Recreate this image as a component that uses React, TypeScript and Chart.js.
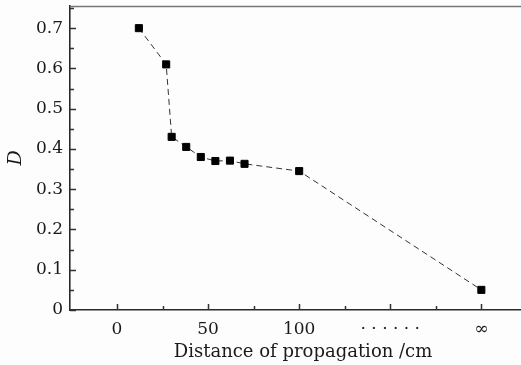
import React, { useEffect, useRef } from 'react';
import { Chart, registerables } from 'chart.js';

Chart.register(...registerables);

const distances = [12, 27, 30, 38, 46, 54, 62, 70, 100, 200];
const dValues = [0.70, 0.61, 0.43, 0.405, 0.38, 0.37, 0.371, 0.363, 0.345, 0.05];
const xTickValues = [0, 50, 100, 150, 200];
const xTickLabels = ['0', '50', '100', '· · · · · ·', '∞'];
const xMinorTicks = [25, 75, 125, 175];
const yTickValues = [0, 0.1, 0.2, 0.3, 0.4, 0.5, 0.6, 0.7];
const yTickLabels = ['0', '0.1', '0.2', '0.3', '0.4', '0.5', '0.6', '0.7'];
const yMinorTicks = [0.05, 0.15, 0.25, 0.35, 0.45, 0.55, 0.65, 0.75];

const FONT = "'DejaVu Serif', serif";
const INK = '#1a1a1a';

const frameTicks = {
  id: 'frameTicks',
  afterDatasetsDraw(chart: any) {
    const { ctx, chartArea, scales } = chart;
    const xs = scales.x;
    const ys = scales.y;
    ctx.save();
    ctx.strokeStyle = '#777';
    ctx.lineWidth = 1.5;
    ctx.beginPath();
    ctx.moveTo(chartArea.left, chartArea.top + 0.5);
    ctx.lineTo(chartArea.right, chartArea.top + 0.5);
    ctx.stroke();
    ctx.strokeStyle = '#333';
    ctx.lineWidth = 1.5;
    ctx.beginPath();
    const yb = chartArea.bottom;
    xTickValues.forEach((v) => {
      const px = Math.round(xs.getPixelForValue(v)) + 0.5;
      ctx.moveTo(px, yb);
      ctx.lineTo(px, yb - 6);
    });
    xMinorTicks.forEach((v) => {
      const px = Math.round(xs.getPixelForValue(v)) + 0.5;
      ctx.moveTo(px, yb);
      ctx.lineTo(px, yb - 4);
    });
    const xl = chartArea.left;
    yTickValues.forEach((v) => {
      const py = Math.round(ys.getPixelForValue(v)) + 0.5;
      ctx.moveTo(xl, py);
      ctx.lineTo(xl + 6, py);
    });
    yMinorTicks.forEach((v) => {
      const py = Math.round(ys.getPixelForValue(v)) + 0.5;
      ctx.moveTo(xl, py);
      ctx.lineTo(xl + 4, py);
    });
    ctx.stroke();
    ctx.restore();
  },
};

export default function App() {
  const ref = useRef<HTMLCanvasElement>(null);
  useEffect(() => {
    document.body.style.margin = '0';
    document.body.style.background = '#fdfdfd';
    const chart = new Chart(ref.current as HTMLCanvasElement, {
      type: 'line',
      data: {
        datasets: [
          {
            data: distances.map((x, i) => ({ x, y: dValues[i] })),
            borderColor: '#333',
            borderWidth: 1,
            borderDash: [6, 4],
            pointStyle: 'rect',
            pointRadius: 5,
            pointBorderWidth: 1,
            pointBackgroundColor: '#000',
            pointBorderColor: '#000',
            tension: 0,
          },
        ],
      },
      options: {
        animation: false,
        responsive: false,
        maintainAspectRatio: false,
        layout: { padding: { top: 6, right: 0, left: 0, bottom: 0 } },
        plugins: { legend: { display: false }, tooltip: { enabled: false } },
        scales: {
          x: {
            type: 'linear',
            min: -25.8,
            max: 230,
            afterBuildTicks: (s: any) => {
              s.ticks = xTickValues.map((v) => ({ value: v }));
            },
            afterFit: (s: any) => {
              s.height = 55;
              s.paddingLeft = 0;
              s.paddingRight = 0;
            },
            grid: { display: false, drawTicks: false },
            border: { display: true, color: '#2a2a2a', width: 1.6 },
            ticks: {
              padding: 9,
              color: INK,
              font: { family: FONT, size: 17 },
              maxRotation: 0,
              autoSkip: false,
              callback: (v: any) => {
                const i = xTickValues.indexOf(Number(v));
                return i >= 0 ? xTickLabels[i] : '';
              },
            },
            title: {
              display: true,
              text: 'Distance of propagation /cm',
              color: INK,
              font: { family: FONT, size: 18 },
              padding: { top: 0, bottom: 2 },
            },
          },
          y: {
            type: 'linear',
            min: 0,
            max: 0.755,
            afterBuildTicks: (s: any) => {
              s.ticks = yTickValues.map((v) => ({ value: v }));
            },
            afterFit: (s: any) => {
              s.width = 70;
              s.paddingTop = 0;
              s.paddingBottom = 0;
            },
            grid: { display: false, drawTicks: false },
            border: { display: true, color: '#2a2a2a', width: 1.6 },
            ticks: {
              padding: 7,
              color: INK,
              font: { family: FONT, size: 17 },
              autoSkip: false,
              callback: (v: any) => {
                const i = yTickValues.findIndex((t) => Math.abs(t - Number(v)) < 1e-6);
                return i >= 0 ? yTickLabels[i] : '';
              },
            },
            title: {
              display: true,
              text: 'D',
              color: INK,
              font: { family: FONT, size: 19, style: 'italic' },
              padding: { top: 5, bottom: 0 },
            },
          },
        },
      },
      plugins: [frameTicks],
    } as any);
    return () => chart.destroy();
  }, []);
  return (
    <div style={{ position: 'fixed', left: 0, top: 0, width: 521, height: 365, overflow: 'hidden', background: '#fdfdfd' }}>
      <canvas ref={ref} width={542} height={365} style={{ display: 'block' }} />
    </div>
  );
}
